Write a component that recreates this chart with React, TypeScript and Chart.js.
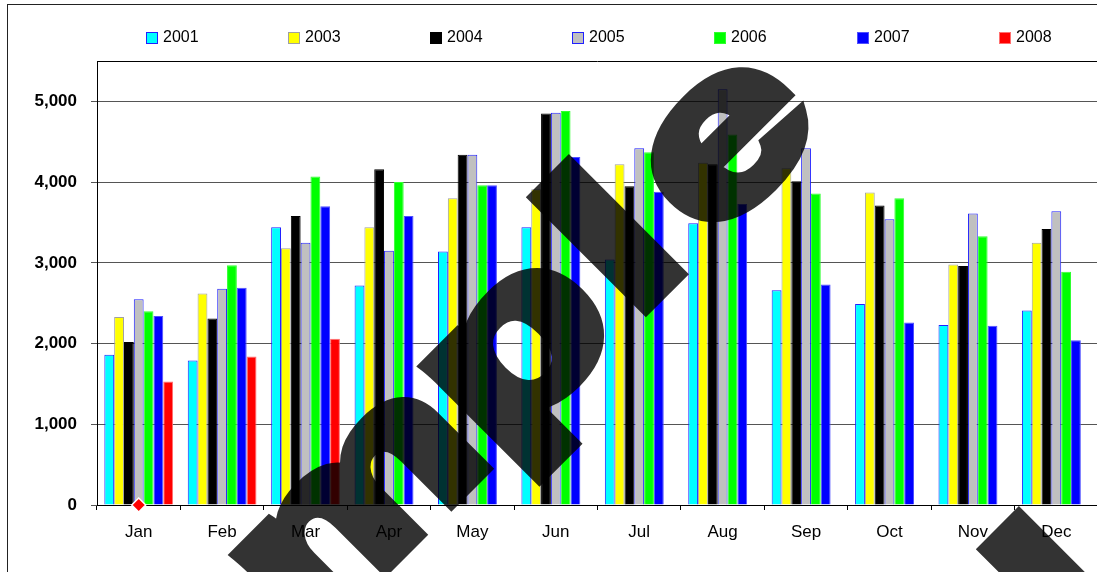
import { useEffect, useRef } from "react";
import { Chart, registerables } from "chart.js";

Chart.register(...registerables);

const months = ["Jan", "Feb", "Mar", "Apr", "May", "Jun", "Jul", "Aug", "Sep", "Oct", "Nov", "Dec"];
const seriesNames = ["2001", "2003", "2004", "2005", "2006", "2007", "2008"];

const v2001 = [1860, 1790, 3440, 2720, 3140, 3440, 3040, 3490, 2660, 2490, 2230, 2410];
const v2003 = [2330, 2620, 3180, 3440, 3800, 3910, 4220, 4240, 4170, 3870, 2980, 3250];
const v2004 = [2020, 2310, 3580, 4160, 4340, 4850, 3950, 4220, 4010, 3710, 2960, 3420];
const v2005 = [2550, 2680, 3250, 3150, 4340, 4860, 4420, 5150, 4420, 3540, 3610, 3640];
const v2006 = [2400, 2970, 4070, 4000, 3960, 4880, 4370, 4590, 3860, 3800, 3330, 2890];
const v2007 = [2340, 2690, 3700, 3580, 3960, 4310, 3880, 3730, 2730, 2260, 2220, 2040];
const v2008 = [1530, 1840, 2060, null, null, null, null, null, null, null, null, null];
const markerValues = [0, null, null, null, null, null, null, null, null, null, null, null];

const yMin = 0;
const yMax = 5500;
const yTickValues = [0, 1000, 2000, 3000, 4000, 5000];

const fills = ["#00FFFF", "#FFFF00", "#000000", "#C0C0C0", "#00FF00", "#0000FF", "#FF0000"];
const edges = ["#2020FF", "#A0A0A0", "#000000", "#2020FF", "#30FF30", "#5050FF", "#FF7070"];

const watermarkText = "Sample";

export default function App() {
  const ref = useRef<HTMLCanvasElement | null>(null);

  useEffect(() => {
    document.body.style.margin = "0";
    const canvas = ref.current;
    if (!canvas) return;
    const series = [v2001, v2003, v2004, v2005, v2006, v2007, v2008];
    const FONT = '"Liberation Sans", Arial, Helvetica, sans-serif';

    const decor = {
      id: "decor",
      afterDraw(chart: any) {
        const ctx = chart.ctx as CanvasRenderingContext2D;
        const a = chart.chartArea;
        ctx.save();
        // outer frame
        ctx.strokeStyle = "#222";
        ctx.lineWidth = 1;
        ctx.strokeRect(7.5, 4.5, 1400, 800);
        // plot top border
        ctx.strokeStyle = "#000";
        ctx.beginPath();
        ctx.moveTo(a.left, Math.round(a.top) + 0.5);
        ctx.lineTo(a.right, Math.round(a.top) + 0.5);
        ctx.stroke();
        // legend
        const startX = 145.6;
        const step = 142.2;
        const cy = 38;
        ctx.font = "16px " + FONT;
        ctx.textBaseline = "middle";
        ctx.textAlign = "left";
        seriesNames.forEach((name, i) => {
          const x = Math.round(startX + i * step);
          ctx.fillStyle = fills[i];
          ctx.fillRect(x, Math.round(cy - 6), 12, 12);
          ctx.strokeStyle = edges[i];
          ctx.strokeRect(x + 0.5, Math.round(cy - 6) + 0.5, 11, 11);
          ctx.fillStyle = "#000";
          ctx.fillText(name, x + 17, cy);
        });
        ctx.restore();

        // watermark
        const wm = document.createElement("canvas");
        wm.width = chart.width;
        wm.height = chart.height;
        const w = wm.getContext("2d") as CanvasRenderingContext2D;
        w.fillStyle = "#000";
        w.strokeStyle = "#000";
        w.lineWidth = 14;
        w.lineJoin = "miter";
        w.font = "bold 215px " + FONT;
        w.textAlign = "center";
        w.textBaseline = "alphabetic";
        const centers = [-509, -325, -107, 118, 263, 412];
        const base = -674;
        const copies = [
          [0, 0],
          [450, 352],
        ];
        const k = Math.SQRT1_2;
        copies.forEach(([dx, dy]) => {
          watermarkText.split("").forEach((ch, i) => {
            const c = centers[i];
            const x = k * (c - base) + dx;
            const y = -k * (c + base) + dy;
            w.save();
            w.translate(x, y);
            w.rotate(-Math.PI / 4);
            w.scale(1.4, 1);
            w.fillText(ch, 0, 0);
            w.strokeText(ch, 0, 0);
            w.restore();
          });
        });
        ctx.save();
        ctx.globalAlpha = 0.8;
        ctx.drawImage(wm, 0, 0);
        ctx.restore();
      },
    };

    const datasets: any[] = series.map((data, i) => ({
      type: "bar",
      label: seriesNames[i],
      data,
      backgroundColor: fills[i],
      borderColor: edges[i],
      borderWidth: 1,
      categoryPercentage: 0.824,
      barPercentage: 1.0,
    }));
    datasets.push({
      type: "line",
      label: "marker",
      data: markerValues,
      showLine: false,
      pointStyle: "rectRot",
      pointRadius: 7,
      backgroundColor: "#FF0000",
      borderColor: "#FFFFFF",
      borderWidth: 1.5,
      clip: false,
      order: -1,
    });

    const chart = new Chart(canvas, {
      type: "bar",
      data: { labels: months, datasets },
      plugins: [decor],
      options: {
        animation: false,
        responsive: false,
        devicePixelRatio: 1,
        layout: { padding: { top: 61, left: 0, right: 102, bottom: 0 } },
        plugins: {
          legend: { display: false },
          title: { display: false },
          tooltip: { enabled: false },
        },
        scales: {
          x: {
            afterFit: (s: any) => {
              s.height = 67;
            },
            grid: {
              offset: true,
              drawOnChartArea: false,
              drawTicks: true,
              tickLength: 5,
              color: "#000",
            },
            border: { display: true, color: "#000", width: 1 },
            ticks: {
              color: "#000",
              padding: 12,
              font: { family: FONT, size: 17, weight: "normal" },
              maxRotation: 0,
              autoSkip: false,
            },
          },
          y: {
            min: yMin,
            max: yMax,
            afterBuildTicks: (s: any) => {
              s.ticks = yTickValues.map((value) => ({ value }));
            },
            afterFit: (s: any) => {
              s.width = 97;
            },
            grid: {
              color: "#555",
              tickLength: 6,
              lineWidth: 1,
            },
            border: { display: true, color: "#000", width: 1 },
            ticks: {
              color: "#000",
              padding: 14,
              font: { family: FONT, size: 17, weight: "bold" },
              callback: (v: any) => Number(v).toLocaleString("en-US"),
            },
          },
        },
      } as any,
    });
    return () => chart.destroy();
  }, []);

  return (
    <div
      style={{
        position: "absolute",
        left: 0,
        top: 0,
        width: 1097,
        height: 572,
        overflow: "hidden",
        background: "#fff",
      }}
    >
      <canvas ref={ref} width={1200} height={572} style={{ width: 1200, height: 572, display: "block" }} />
    </div>
  );
}
